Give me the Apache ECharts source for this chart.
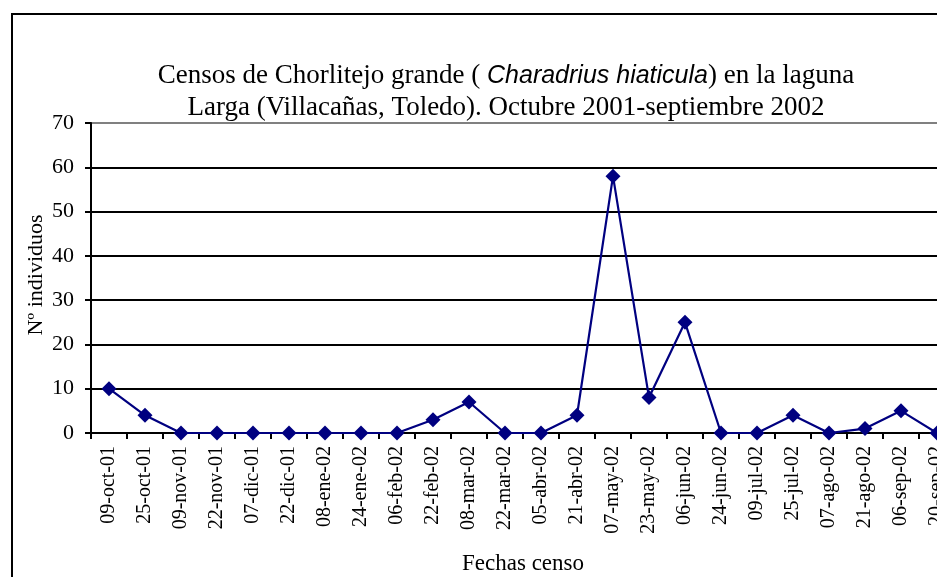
<!DOCTYPE html>
<html>
<head>
<meta charset="utf-8">
<script src="https://cdn.jsdelivr.net/npm/echarts@6/dist/echarts.min.js"></script>
<style>
  html, body { margin: 0; padding: 0; background: #fff; }
  #chart { width: 937px; height: 577px; }
</style>
</head>
<body>
<div id="chart"></div>
<script>
const fechas = ['09-oct-01', '25-oct-01', '09-nov-01', '22-nov-01', '07-dic-01', '22-dic-01',
    '08-ene-02', '24-ene-02', '06-feb-02', '22-feb-02', '08-mar-02', '22-mar-02',
    '05-abr-02', '21-abr-02', '07-may-02', '23-may-02', '06-jun-02', '24-jun-02',
    '09-jul-02', '25-jul-02', '07-ago-02', '21-ago-02', '06-sep-02', '20-sep-02'];
const individuos = [10, 4, 0, 0, 0, 0, 0, 0, 0, 3, 7, 0, 0, 4, 58, 8, 25, 0, 0, 4, 0, 1, 5, 0];
const yTicks = [0, 10, 20, 30, 40, 50, 60, 70];

const serif = '"Liberation Serif", "Times New Roman", serif';
const elem = document.getElementById('chart');
const myChart = echarts.init(elem, null, { renderer: 'canvas' });

myChart.setOption({
    backgroundColor: '#fff',
    animation: false,
    title: {
        text: 'Censos de Chorlitejo grande ( {i|Charadrius hiaticula}) en la laguna\nLarga (Villacañas, Toledo). Octubre 2001-septiembre 2002',
        left: 501,
        top: 55,
        textAlign: 'center',
        textStyle: {
            fontFamily: serif,
            fontSize: 27,
            fontWeight: 'normal',
            color: '#000',
            lineHeight: 32,
            rich: {
                i: {
                    fontFamily: '"Liberation Sans", Arial, sans-serif',
                    fontStyle: 'italic',
                    fontSize: 25,
                    color: '#000'
                }
            }
        }
    },
    graphic: [
        {
            type: 'rect',
            shape: { x: 12, y: 14, width: 1000, height: 700 },
            style: { fill: 'none', stroke: '#000', lineWidth: 2 },
            z: 0
        },
        {
            type: 'text',
            x: 36,
            y: 275,
            rotation: Math.PI / 2,
            style: {
                text: 'Nº individuos',
                fontFamily: serif,
                fontSize: 22,
                fill: '#000',
                align: 'center',
                verticalAlign: 'middle'
            }
        }
    ],
    grid: { left: 91, top: 123, width: 864, height: 310, containLabel: false, outerBoundsMode: 'none' },
    xAxis: {
        type: 'category',
        data: fechas,
        boundaryGap: true,
        name: 'Fechas censo',
        nameLocation: 'middle',
        nameGap: 119,
        nameTextStyle: { fontFamily: serif, fontSize: 23, color: '#000' },
        axisLine: { lineStyle: { color: '#000', width: 2 } },
        axisTick: { show: true, alignWithLabel: false, length: 6, inside: false, lineStyle: { color: '#000', width: 2 } },
        axisLabel: { rotate: 90, fontFamily: serif, fontSize: 20, color: '#000', margin: 13, interval: 0 },
        splitLine: { show: false }
    },
    yAxis: {
        type: 'value',
        min: 0,
        max: 70,
        interval: 10,
        axisLine: { show: true, lineStyle: { color: '#000', width: 2 } },
        axisTick: { show: true, length: 6, lineStyle: { color: '#000', width: 2 } },
        axisLabel: {
            fontFamily: serif, fontSize: 22, color: '#000', margin: 17,
            formatter: function (v) { return yTicks.indexOf(v) >= 0 ? String(v) : ''; }
        },
        splitLine: {
            show: true,
            lineStyle: { color: ['#000', '#000', '#000', '#000', '#000', '#000', '#000', '#808080'], width: 2 }
        }
    },
    series: [{
        type: 'line',
        data: individuos,
        symbol: 'diamond',
        symbolSize: 15,
        showAllSymbol: true,
        lineStyle: { color: '#000080', width: 2.2 },
        itemStyle: { color: '#000080' },
        z: 5
    }]
});
</script>
</body>
</html>
